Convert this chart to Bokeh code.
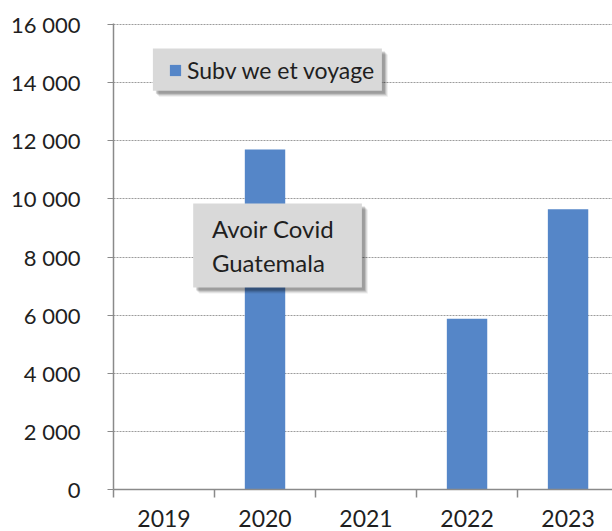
from bokeh.plotting import figure
from bokeh.models import (Range1d, LinearAxis, FixedTicker, BoxAnnotation, Label,
                          Legend, LegendItem, Grid)
from bokeh.embed import file_html
from bokeh.resources import INLINE

# ---- data ----
years = [2019, 2020, 2021, 2022, 2023]
year_labels = ["2019", "2020", "2021", "2022", "2023"]
values = [0, 11700, 0, 5880, 9650]
series_name = "Subv we et voyage"
y_ticks = [0, 2000, 4000, 6000, 8000, 10000, 12000, 14000, 16000]
y_tick_labels = ["0", "2 000", "4 000", "6 000", "8 000", "10 000", "12 000", "14 000", "16 000"]
note_lines = ["Avoir Covid", "Guatemala"]

FONT = "Lato"
TXT = "#1f1f1f"
AXC = "#8a8a8a"
BLUE = "#5586c8"

p = figure(width=612, height=531, output_backend="svg", toolbar_location=None,
           x_range=Range1d(2018.5, 2023.44), y_range=Range1d(0, 16040),
           x_axis_type=None, y_axis_type=None,
           min_border_left=113, min_border_right=0, min_border_top=23, min_border_bottom=42)
p.outline_line_color = None
p.background_fill_color = "white"
p.border_fill_color = "white"

# y axis
yaxis = LinearAxis(ticker=FixedTicker(ticks=y_ticks, minor_ticks=[]),
                   major_label_overrides={t: l for t, l in zip(y_ticks, y_tick_labels)},
                   axis_line_color=AXC, axis_line_width=1.5,
                   major_tick_line_color=AXC, major_tick_out=6, major_tick_in=0,
                   minor_tick_line_color=None,
                   major_label_standoff=27,
                   major_label_text_font=FONT, major_label_text_font_size="22px",
                   major_label_text_color=TXT)
p.add_layout(yaxis, "left")

grid = Grid(dimension=1, ticker=yaxis.ticker, grid_line_color="#9c9c9c",
            grid_line_dash="2 1", grid_line_width=1)
p.add_layout(grid)

# x axis: labels at category centres, tick marks (minor) at category boundaries
bounds = [y - 0.5 for y in years] + [years[-1] + 0.5]
xaxis = LinearAxis(ticker=FixedTicker(ticks=years, minor_ticks=bounds),
                   major_label_overrides={y: l for y, l in zip(years, year_labels)},
                   axis_line_color=AXC, axis_line_width=1.5,
                   major_tick_line_color=None, major_tick_out=0, major_tick_in=0,
                   minor_tick_line_color=AXC, minor_tick_out=8, minor_tick_in=0,
                   minor_tick_line_width=1.5,
                   major_label_standoff=12,
                   major_label_text_font=FONT, major_label_text_font_size="23px",
                   major_label_text_color=TXT)
p.add_layout(xaxis, "below")

bars = p.vbar(x=years, top=values, width=0.4, fill_color=BLUE, line_color=None)

# boxes with soft shadow
def shadowed_box(left, right, bottom, top):
    for k, a in [(6, 0.07), (5, 0.09), (4, 0.13), (3, 0.16)]:
        p.add_layout(BoxAnnotation(left=left + k * 0.0099, right=right + k * 0.0099,
                                   bottom=bottom - k * 34.5, top=top - k * 34.5,
                                   fill_color="#000000", fill_alpha=a, line_color=None))
    p.add_layout(BoxAnnotation(left=left, right=right, bottom=bottom, top=top,
                               fill_color="#d9d9d9", fill_alpha=1, line_color=None))

shadowed_box(2018.89, 2021.157, 13729, 15176)
shadowed_box(2019.289, 2020.959, 6951, 9845)

legend = Legend(items=[LegendItem(label=series_name, renderers=[bars])],
                location=(55, 405), background_fill_alpha=0, border_line_color=None,
                glyph_width=14, glyph_height=14, label_standoff=5,
                label_text_font=FONT, label_text_font_size="23px", label_text_color=TXT,
                padding=0, margin=0)
p.add_layout(legend)

for txt, yy in zip(note_lines, [8973, 7812]):
    p.add_layout(Label(x=2019.474, y=yy, text=txt, text_baseline="middle",
                       text_font=FONT, text_font_size="24px", text_color=TXT))

open("out.html", "w").write(file_html(p, INLINE))
